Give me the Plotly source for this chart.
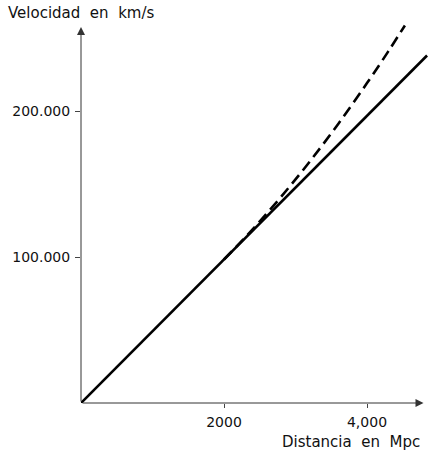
import plotly.graph_objects as go

# Data
solid_x = [0, 4840]
solid_y = [0, 238000]

dashed_x = [2000, 2400, 2800, 3200, 3600, 4000, 4300, 4530]
dashed_y = [98300, 118900, 141300, 165400, 191300, 219100, 241000, 258600]

x_tickvals = [2000, 4000]
x_ticktext = ["2000", "4,000"]
y_tickvals = [100000, 200000]
y_ticktext = ["100.000", "200.000"]

x_axis_end = 4790
y_axis_end = 257500

W, H = 440, 450
OX, OY = 81, 403          # origin on screen
RIGHT = 430               # right edge of plot area on screen
TOP = 20                  # top edge of plot area on screen
L = OX
T = TOP
pw = RIGHT - OX
ph = OY - TOP
R = W - L - pw
B = H - T - ph
x_range = [0, pw / 71.5 * 1000]
y_range = [0, ph / 146 * 100000]

FONT = "DejaVu Sans"

fig = go.Figure()
fig.add_trace(go.Scatter(x=solid_x, y=solid_y, mode="lines",
                         line=dict(color="black", width=2.6),
                         cliponaxis=False, showlegend=False, hoverinfo="skip"))
fig.add_trace(go.Scatter(x=dashed_x, y=dashed_y, mode="lines",
                         line=dict(color="black", width=2.6, dash="11px,6px", shape="spline"),
                         cliponaxis=False, showlegend=False, hoverinfo="skip"))

# axes with arrows
fig.add_annotation(x=x_axis_end, y=0, ax=0, ay=0, xref="x", yref="y", axref="x", ayref="y",
                   text="", showarrow=True, arrowhead=2, arrowsize=1.6, arrowwidth=1,
                   arrowcolor="#333")
fig.add_annotation(x=0, y=y_axis_end, ax=0, ay=0, xref="x", yref="y", axref="x", ayref="y",
                   text="", showarrow=True, arrowhead=2, arrowsize=1.6, arrowwidth=1,
                   arrowcolor="#333")

fig.add_annotation(text="Velocidad  en  km/s", xref="paper", yref="paper",
                   x=(6 - OX) / pw, y=(OY - 13) / ph, xanchor="left", yanchor="middle",
                   showarrow=False, font=dict(family=FONT, size=15, color="#111"))
fig.add_annotation(text="Distancia  en  Mpc", xref="paper", yref="paper",
                   x=(422 - OX) / pw, y=(OY - 442) / ph, xanchor="right", yanchor="middle",
                   showarrow=False, font=dict(family=FONT, size=15, color="#111"))

fig.update_xaxes(range=x_range, showgrid=False, zeroline=False, showline=False,
                 tickvals=x_tickvals, ticktext=x_ticktext, ticks="outside", ticklen=4,
                 tickcolor="#444", ticklabelstandoff=2, automargin=False,
                 tickfont=dict(family=FONT, size=14, color="#111"))
fig.update_yaxes(range=y_range, showgrid=False, zeroline=False, showline=False,
                 tickvals=y_tickvals, ticktext=y_ticktext, ticks="outside", ticklen=5,
                 tickcolor="#444", ticklabelstandoff=2, automargin=False,
                 tickfont=dict(family=FONT, size=14, color="#111"))

fig.update_layout(width=W, height=H, autosize=False,
                  margin=dict(l=L, r=R, t=T, b=B),
                  plot_bgcolor="white", paper_bgcolor="white")

fig.write_html("out.html", config={"displayModeBar": False, "staticPlot": True},
               post_script="document.body.style.margin='0';")
